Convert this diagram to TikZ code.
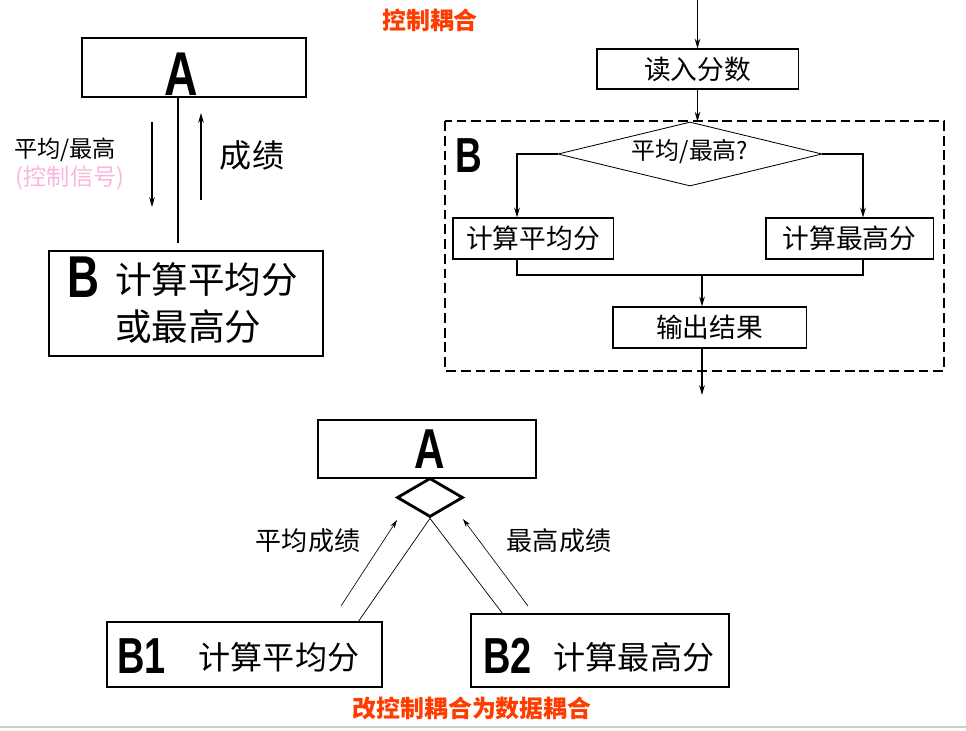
\documentclass[tikz,border=0pt]{standalone}
\usepackage{fontspec}
\setmainfont{Noto Sans CJK SC}
\newfontfamily\bigfont[FakeStretch=0.75]{Liberation Sans}
\usetikzlibrary{shapes.geometric, arrows.meta, positioning}
\definecolor{titlered}{RGB}{255, 60, 0}
\definecolor{signalpink}{RGB}{248, 182, 218}
\tikzset{
  box/.style={draw, line width=0.75pt, inner sep=0pt},
  letter/.style={anchor=base, inner sep=0pt, font=\bigfont\bfseries\fontsize{#1}{#1}\selectfont},
  arr/.style={-{Stealth[length=7pt, width=4pt]}, line width=0.8pt},
  thinarr/.style={-{Stealth[length=6pt, width=3.5pt]}, line width=0.45pt},
}

\begin{document}
\begin{tikzpicture}[x=0.025cm, y=-0.025cm]
  \useasboundingbox (0,0) rectangle (966,730);

  % Control coupling
  \node[font=\bfseries\fontsize{17}{17}\selectfont, text=titlered] (title) at (430, 20) {控制耦合};

  % A calls B with a flag
  \node[box, line width=1pt, minimum width=5.6cm, minimum height=1.475cm] (ta) at (194, 67.5) {};
  \node[letter=44pt] (taname) at (181, 95) {A};
  \node[box, line width=1pt, minimum width=6.85cm, minimum height=2.625cm] (tb) at (186, 303.5) {};
  \node[letter=42pt] (tbname) at (83, 297) {B};
  \node[anchor=west, align=left, inner sep=0pt, font=\fontsize{26}{33.5}\selectfont] (tbtext) at (115, 303) {计算平均分\\或最高分};
  \coordinate (tcall) at (178, 243);
  \draw[line width=1.2pt] (ta.south -| tcall) -- (tcall);
  \coordinate (fl0) at (152, 122); \coordinate (fl1) at (152, 207);
  \draw[arr] (fl0) -- (fl1);
  \coordinate (rs0) at (201, 200); \coordinate (rs1) at (201, 113);
  \draw[arr] (rs0) -- (rs1);
  \node[font=\fontsize{16.5}{16.5}\selectfont] (flag) at (65, 150) {平均/最高};
  \node[font=\fontsize{16.5}{16.5}\selectfont, text=signalpink] (flagnote) at (70, 178) {(控制信号)};
  \node[font=\fontsize{22.8}{22.8}\selectfont] (score) at (252, 155) {成绩};

  % Flowchart of B
  \coordinate (fin) at (695, 0);
  \node[box, minimum width=5.025cm, minimum height=1cm, font=\fontsize{19}{19}\selectfont] (read) at (697.5, 69) {读入分数};
  \draw[arr] (read.north |- fin) -- (read.north);
  \draw[line width=1.3pt, dash pattern=on 7pt off 3.5pt] (445, 121) rectangle (944, 371);
  \node[letter=35pt] (fbname) at (468.5, 172) {B};
  \node[diamond, draw, line width=0.6pt, inner sep=0pt, minimum width=6.6cm, minimum height=1.6cm] (dia) at (690, 154) {};
  \node[font=\fontsize{17}{17}\selectfont] (diatext) at (690, 152) {平均/最高?};
  \draw[arr] (read.south) -- (read.south |- dia.north);
  \node[box, minimum width=4cm, minimum height=1.025cm, font=\fontsize{19}{19}\selectfont] (avg) at (533, 238.5) {计算平均分};
  \node[box, minimum width=4.175cm, minimum height=1.025cm, font=\fontsize{19}{19}\selectfont] (max) at (849.5, 238.5) {计算最高分};
  \node[box, minimum width=4.825cm, minimum height=1.025cm, font=\fontsize{19}{19}\selectfont] (out) at (709.5, 327.5) {输出结果};
  \coordinate (bl) at (517, 275); \coordinate (br) at (863, 275); \coordinate (bm) at (702, 275);
  \draw[arr] (dia.west) -| (bl |- avg.north);
  \draw[arr] (dia.east) -| (br |- max.north);
  \draw[line width=1.2pt] (bl |- avg.south) -- (bl) -- (br) -- (br |- max.south);
  \draw[arr] (bm) -- (bm |- out.north);
  \coordinate (fout) at (702, 395);
  \draw[arr] (bm |- out.south) -- (fout);

  % Data coupling
  \node[box, line width=2pt, minimum width=5.45cm, minimum height=1.45cm] (ba) at (427, 449) {};
  \node[letter=40pt] (baname) at (430, 468) {A};
  \node[diamond, draw, line width=2pt, inner sep=0pt, minimum width=1.65cm, minimum height=0.975cm] (sel) at (430, 497.5) {};
  \node[box, line width=0.9pt, minimum width=6.875cm, minimum height=1.625cm] (b1) at (244.5, 654.5) {};
  \node[box, line width=0.9pt, minimum width=6.45cm, minimum height=1.825cm] (b2) at (600, 650.5) {};
  \node[letter=36pt] (b1name) at (141.5, 673) {B1};
  \node[letter=36pt] (b2name) at (507.5, 673) {B2};
  \node[font=\fontsize{22.8}{22.8}\selectfont] (b1text) at (279, 657) {计算平均分};
  \node[font=\fontsize{22.8}{22.8}\selectfont] (b2text) at (634, 657) {计算最高分};
  \coordinate (b1top) at (358, 622); \coordinate (b2top) at (503, 614);
  \draw[line width=0.5pt] (sel.south) -- (b1top);
  \draw[line width=0.5pt] (sel.south) -- (b2top);
  \coordinate (al0) at (341, 606); \coordinate (al1) at (397, 520);
  \coordinate (ar0) at (528, 606); \coordinate (ar1) at (463, 519);
  \draw[thinarr] (al0) -- (al1);
  \draw[thinarr] (ar0) -- (ar1);
  \node[font=\fontsize{18.5}{18.5}\selectfont] (avgscore) at (308, 541) {平均成绩};
  \node[font=\fontsize{18.5}{18.5}\selectfont] (maxscore) at (559, 541) {最高成绩};
  \node[font=\bfseries\fontsize{17}{17}\selectfont, text=titlered] (note) at (472, 708) {改控制耦合为数据耦合};

  \draw[gray!40, line width=1pt] (0, 727) -- (966, 727);
\end{tikzpicture}
\end{document}
